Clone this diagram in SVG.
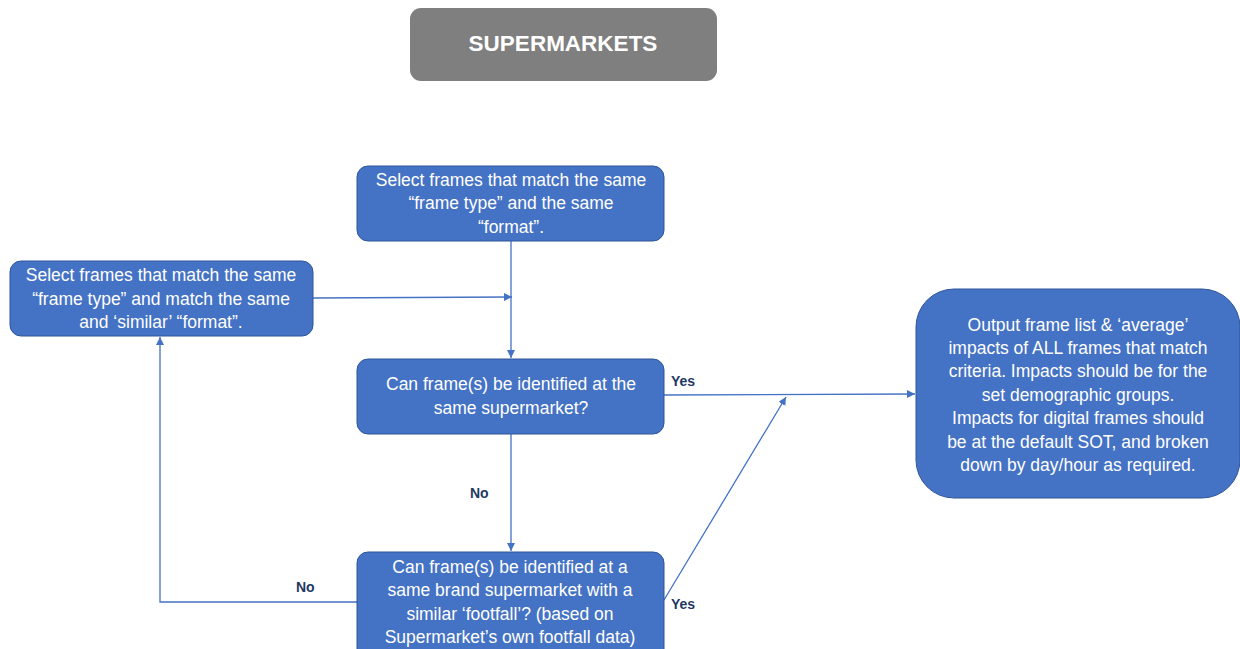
<svg xmlns="http://www.w3.org/2000/svg" width="1240" height="649" viewBox="0 0 1240 649">
<style>
.box{fill:#4472c4;stroke:#2f5597;stroke-width:1}
.t{font-family:"Liberation Sans",Arial,sans-serif;font-size:17.5px;fill:#ffffff;text-anchor:middle}
.lbl{font-family:"Liberation Sans",Arial,sans-serif;font-size:14px;font-weight:bold;fill:#1f3864}
.c{fill:none;stroke:#4472c4;stroke-width:1.3}
</style>
<defs>
<marker id="ah" viewBox="0 0 10 10" refX="10" refY="5" markerWidth="8" markerHeight="8" markerUnits="userSpaceOnUse" orient="auto">
<path d="M0,0 L10,5 L0,10 z" fill="#4472c4"/>
</marker>
</defs>
<rect width="1240" height="649" fill="#ffffff"/>
<g id="title">
<rect x="410" y="8" width="307" height="73" rx="11" fill="#7f7f7f"/>
<text x="563" y="51" font-family="Liberation Sans, Arial, sans-serif" font-size="22.5" font-weight="bold" fill="#ffffff" text-anchor="middle">SUPERMARKETS</text>
</g>
<g id="connectors">
<path class="c" d="M511,241 L511,358" marker-end="url(#ah)"/>
<path class="c" d="M313,298 L512,297" marker-end="url(#ah)"/>
<path class="c" d="M664,395 L915,394" marker-end="url(#ah)"/>
<path class="c" d="M511,434 L511,551" marker-end="url(#ah)"/>
<path class="c" d="M357,602 L160,602 L160,337" marker-end="url(#ah)"/>
<path class="c" d="M664,600 L786,397" marker-end="url(#ah)"/>
</g>
<g id="labels">
<text class="lbl" x="671" y="386">Yes</text>
<text class="lbl" x="470" y="498">No</text>
<text class="lbl" x="296" y="592">No</text>
<text class="lbl" x="671" y="609">Yes</text>
</g>
<g id="n1">
<rect class="box" x="357" y="166" width="307" height="75" rx="11"/>
<text class="t" x="511" y="186">Select frames that match the same</text>
<text class="t" x="511" y="209">“frame type” and the same</text>
<text class="t" x="511" y="233">“format”.</text>
</g>
<g id="n2">
<rect class="box" x="10" y="261" width="303" height="75" rx="11"/>
<text class="t" x="161" y="281">Select frames that match the same</text>
<text class="t" x="161" y="305">“frame type” and match the same</text>
<text class="t" x="161" y="328">and ‘similar’ “format”.</text>
</g>
<g id="n3">
<rect class="box" x="357" y="359" width="307" height="75" rx="11"/>
<text class="t" x="511" y="390">Can frame(s) be identified at the</text>
<text class="t" x="511" y="414">same supermarket?</text>
</g>
<g id="n4">
<rect class="box" x="357" y="552" width="307" height="112" rx="11"/>
<text class="t" x="510" y="573">Can frame(s) be identified at a</text>
<text class="t" x="510" y="596">same brand supermarket with a</text>
<text class="t" x="510" y="620">similar ‘footfall’? (based on</text>
<text class="t" x="510" y="643">Supermarket’s own footfall data)</text>
</g>
<g id="n5">
<rect class="box" x="916" y="289" width="324" height="209" rx="38"/>
<text class="t" x="1078" y="331">Output frame list &amp; ‘average’</text>
<text class="t" x="1078" y="354">impacts of ALL frames that match</text>
<text class="t" x="1078" y="377">criteria. Impacts should be for the</text>
<text class="t" x="1078" y="401">set demographic groups.</text>
<text class="t" x="1078" y="424">Impacts for digital frames should</text>
<text class="t" x="1078" y="448">be at the default SOT, and broken</text>
<text class="t" x="1078" y="471">down by day/hour as required.</text>
</g>
</svg>
